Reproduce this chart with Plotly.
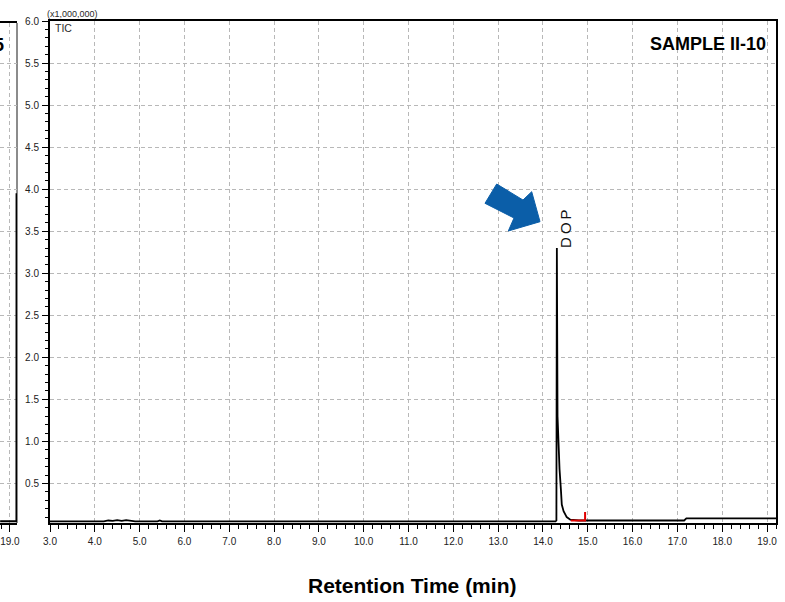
import plotly.graph_objects as go

W, H = 785, 602

# Total ion chromatogram, intensity in units of 1,000,000 counts
rt_min = [3.0, 4.2, 4.3, 4.4, 4.5, 4.6, 4.7, 4.8, 4.9, 5.4, 5.45, 5.5,
          14.28, 14.30, 14.31, 14.325, 14.345, 14.37, 14.40, 14.42, 14.46,
          14.53, 14.61, 14.80, 17.15, 17.20, 19.2]
tic = [0.05, 0.05, 0.06, 0.055, 0.065, 0.055, 0.065, 0.055, 0.05, 0.05, 0.06, 0.05,
       0.05, 0.06, 3.30, 1.30, 1.00, 0.67, 0.43, 0.25, 0.17,
       0.10, 0.07, 0.06, 0.06, 0.085, 0.085]

# Integration baseline / peak-end marker
integ_rt = [14.62, 14.94, 14.94]
integ_val = [0.06, 0.06, 0.16]

# Tail end of the neighbouring sample's chromatogram
prev_rt = [18.78, 19.148, 19.15, 19.16]
prev_tic = [0.05, 0.05, 3.94, 3.94]

peak_label = "D\u2009O\u2009P"
peak_rt, peak_val = 14.31, 3.30
sample_name = "SAMPLE II-10"
prev_sample_name = "SAMPLE II-5"
x_title = "Retention Time (min)"

NARROW = "Liberation Sans Narrow, Arial Narrow, Liberation Sans, Arial"
SANS = "Liberation Sans, Arial, sans-serif"


def px(x):
    return x / W


def py(y):
    return 1 - y / H


fig = go.Figure()
fig.add_trace(go.Scatter(x=rt_min, y=tic, mode="lines",
                         line=dict(color="black", width=1.8),
                         xaxis="x", yaxis="y", showlegend=False))
fig.add_trace(go.Scatter(x=integ_rt, y=integ_val, mode="lines",
                         line=dict(color="#e00000", width=2),
                         xaxis="x", yaxis="y", showlegend=False))
fig.add_trace(go.Scatter(x=prev_rt, y=prev_tic, mode="lines",
                         line=dict(color="black", width=2),
                         xaxis="x2", yaxis="y2", showlegend=False))

grid = dict(showgrid=True, gridcolor="#b8b8b8", gridwidth=1, griddash="4px,3px")
tickfont = dict(family=NARROW, size=10, color="#222222")

xcommon = dict(
    dtick=1.0, tick0=3.0, tickformat=".1f", ticks="outside", ticklen=7,
    tickwidth=1.2, tickcolor="black", tickfont=tickfont,
    showline=True, linecolor="black", linewidth=2, mirror=True,
    zeroline=False, ticklabelstandoff=1, automargin=False,
    minor=dict(dtick=0.2, ticks="outside", ticklen=4, tickcolor="black",
               tickwidth=1, showgrid=False),
    **grid,
)

fig.update_layout(
    template="none",
    width=W, height=H,
    margin=dict(l=0, r=0, t=0, b=0, pad=0),
    paper_bgcolor="white", plot_bgcolor="white",
    xaxis=dict(domain=[px(50), px(776)], range=[3.0, 19.2], anchor="y", **xcommon),
    yaxis=dict(domain=[py(523), py(21)], range=[0.03, 6.0005], anchor="x",
               dtick=0.5, tick0=0, tickformat=".1f", ticks="outside", ticklen=6,
               tickwidth=1.2, tickcolor="black", tickfont=tickfont,
               showline=True, linecolor="black", linewidth=2, mirror=True,
               zeroline=False, ticklabelstandoff=1, automargin=False,
               minor=dict(dtick=0.1, ticks="outside", ticklen=3,
                          tickcolor="black", tickwidth=1, showgrid=False),
               **grid),
    xaxis2=dict(domain=[0, px(17)], range=[18.777, 19.16], anchor="y2", **xcommon),
    yaxis2=dict(domain=[py(523), py(23)], range=[0.03, 5.976], anchor="x2",
                dtick=0.5, tick0=0, showticklabels=False, ticks="",
                showline=False, zeroline=False, automargin=False, **grid),
)

# right-hand border of the neighbouring panel
fig.add_shape(type="line", xref="x2 domain", yref="y2 domain", layer="below",
              x0=1, x1=1, y0=0, y1=1, line=dict(color="#666", width=1.5))

# blue pointer arrow towards the DOP peak
arrow_pts = [(496.7, 184), (523, 200), (531.7, 191.7), (540, 221.7),
             (508.3, 231), (514, 218), (485, 203.3)]
path = "M " + " L ".join(f"{px(x):.5f},{py(y):.5f}" for x, y in arrow_pts) + " Z"
fig.add_shape(type="path", xref="paper", yref="paper", path=path,
              fillcolor="#0b5ea8", line=dict(color="#0b5ea8", width=1))

fig.add_annotation(x=peak_rt, y=peak_val, xref="x", yref="y", text=peak_label,
                   textangle=-90, showarrow=False, xanchor="left", yanchor="bottom",
                   xshift=-2, yshift=-2,
                   font=dict(family=SANS, size=15, color="#111"))

fig.add_annotation(x=px(45), y=py(14), xref="paper", yref="paper",
                   text="(x1,000,000)", showarrow=False, xanchor="left",
                   yanchor="middle", font=dict(family=NARROW, size=9, color="#2a2a2a"))
fig.add_annotation(x=px(53), y=py(28), xref="paper", yref="paper",
                   text="TIC", showarrow=False, xanchor="left",
                   yanchor="middle", font=dict(family=NARROW, size=10.5, color="#2a2a2a"))

fig.add_annotation(x=px(768), y=py(44), xref="paper", yref="paper",
                   text=f"<b>{sample_name}</b>", showarrow=False, xanchor="right",
                   yanchor="middle", font=dict(family=SANS, size=18, color="black"))
fig.add_annotation(x=px(5.5), y=py(45), xref="paper", yref="paper",
                   text=f"<b>{prev_sample_name}</b>", showarrow=False, xanchor="right",
                   yanchor="middle", font=dict(family=SANS, size=18, color="black"))

fig.add_annotation(x=px(411.5), y=py(585), xref="paper", yref="paper",
                   text=f"<b>{x_title}</b>", showarrow=False, xanchor="center",
                   yanchor="middle", font=dict(family=SANS, size=21, color="black"))

fig.write_html("out.html")
